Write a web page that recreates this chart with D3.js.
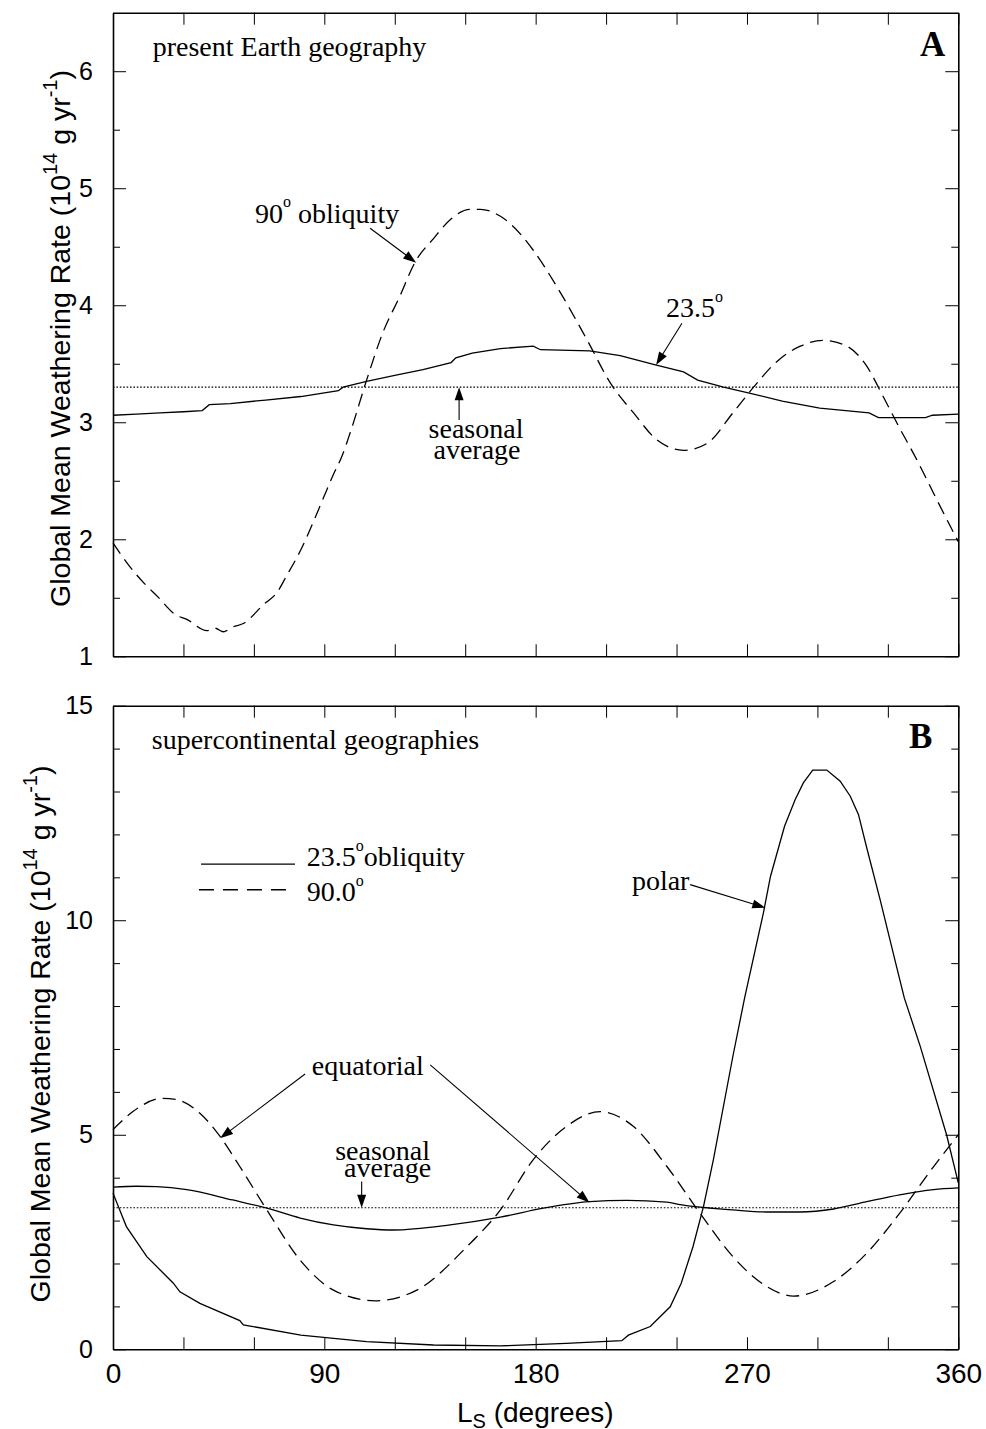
<!DOCTYPE html>
<html><head><meta charset="utf-8">
<script src="https://cdn.jsdelivr.net/npm/d3@7/dist/d3.min.js"></script>
<style>body{margin:0;background:#fff} svg{display:block}</style>
</head><body>
<svg id="chart" width="986" height="1429"></svg>
<script>
// ---------- DATA ----------
// x tick values (Ls degrees)
const xTicks = [0,30,60,90,120,150,180,210,240,270,300,330,360];
const xLabelTicks = [0,90,180,270,360];
// panel A y ticks
const yMajorA = [1,2,3,4,5,6];
const yMinorA = [1.5,2.5,3.5,4.5,5.5];
// panel B y ticks
const yMajorB = [0,5,10,15];
const yMinorB = [1,2,3,4,6,7,8,9,11,12,13,14];

const seasonalAvgA = 3.3;
const seasonalAvgB = 3.3;

// Panel A: present Earth geography [Ls, rate]
const earth235 = [[0,3.06],[10,3.07],[20,3.08],[30,3.09],[38,3.10],[41,3.15],[50,3.16],[65,3.19],[80,3.22],[96,3.27],[98,3.30],[108,3.35],[120,3.40],[132,3.45],[144,3.51],[146,3.55],[153,3.59],[165,3.63],[179,3.65],[182,3.62],[203,3.61],[216,3.57],[231,3.49],[243,3.43],[249,3.36],[260,3.30],[271,3.25],[285,3.18],[301,3.12],[322,3.08],[326,3.04],[346,3.04],[349,3.06],[360,3.07]];
const earth90 = [[0,1.97],[7,1.77],[13,1.63],[19,1.51],[27,1.35],[31,1.32],[40,1.22],[43.5,1.24],[47,1.21],[51,1.25],[55.5,1.28],[64,1.44],[70,1.55],[74,1.69],[80,1.91],[86,2.18],[91,2.42],[94,2.56],[97.5,2.71],[101,2.91],[108,3.36],[115,3.77],[122,4.07],[128.7,4.37],[136.5,4.57],[143.6,4.73],[152,4.82],[156.4,4.82],[165,4.76],[169,4.70],[179,4.47],[189,4.16],[202,3.70],[212,3.33],[221.7,3.08],[231.6,2.85],[243,2.76],[253,2.82],[264,3.08],[272.8,3.30],[282.8,3.52],[292.7,3.65],[302.6,3.70],[312.6,3.65],[321,3.48],[328,3.22],[335,2.95],[341,2.73],[346.6,2.51],[349.3,2.40],[360,1.98]];

// Panel B: supercontinental geographies [Ls, rate]
const polar235 = [[0,3.64],[5.7,2.86],[14.4,2.16],[25.7,1.54],[28.5,1.34],[37,1.07],[54,0.67],[55.5,0.57],[80,0.33],[108,0.18],[136.5,0.10],[165,0.08],[193,0.14],[216.7,0.20],[219.5,0.33],[228.8,0.53],[237.3,0.99],[242,1.54],[247,2.39],[251.5,3.33],[255.7,4.42],[264,6.83],[269,8.19],[277,10.17],[280,11.02],[286,12.19],[290.5,12.81],[294,13.2],[298,13.5],[304,13.5],[309.7,13.24],[314,12.89],[317.5,12.46],[321,11.69],[326.7,10.48],[333.7,8.92],[337,8.19],[343.8,7.06],[355,5.0],[360,3.88]];
const equat235 = [[0,3.78],[10,3.80],[18.6,3.79],[31.4,3.72],[51,3.48],[65.5,3.29],[79.7,3.06],[93.9,2.90],[108,2.81],[119.4,2.78],[143.6,2.90],[165,3.08],[183.3,3.29],[203,3.44],[218.8,3.47],[235.9,3.43],[241.6,3.37],[264,3.25],[278.5,3.20],[292.7,3.20],[306.9,3.27],[321,3.44],[335,3.60],[349.5,3.72],[360,3.76]];
const equat90 = [[0,5.12],[8.5,5.54],[21,5.85],[27,5.82],[37,5.50],[45.6,4.96],[54,4.26],[65.5,3.25],[79.7,2.08],[93.9,1.38],[111.6,1.13],[129.4,1.38],[150.7,2.39],[165,3.25],[179,4.42],[193,5.19],[207.5,5.54],[221.7,5.19],[235.9,4.26],[250,3.17],[264,2.16],[278.5,1.46],[289.8,1.24],[306.9,1.58],[321,2.24],[335,3.17],[349.5,4.26],[360,5.0]];

// ---------- SETUP ----------
const svg = d3.select("#chart");
const SANS = "'Liberation Sans', Arial, Helvetica, sans-serif";
const SERIF = "'Liberation Serif', 'Times New Roman', Times, serif";

const x = d3.scaleLinear().domain([0,360]).range([113,958.3]);
const yA = d3.scaleLinear().domain([1,6.5]).range([656.3,12.7]);
const yB = d3.scaleLinear().domain([0,15]).range([1349.3,705.7]);

function styleAxis(g, size){
  g.attr("font-family", SANS).attr("font-size", size);
  g.selectAll("line").attr("stroke","#000").attr("stroke-width",1);
  g.selectAll(".domain").attr("stroke","#000").attr("stroke-width",1.6);
  g.selectAll("text").attr("fill","#000");
}

function drawAxes(y, yMajor, yMinor, showX){
  const [yb, yt] = y.range();
  const [xl, xr] = x.range();
  const gb = svg.append("g").attr("transform",`translate(0,${yb})`)
    .call(d3.axisBottom(x).tickValues(xTicks).tickSize(-12).tickSizeOuter(0).tickPadding(13.5)
      .tickFormat(d => (showX && xLabelTicks.includes(d)) ? d : ""));
  styleAxis(gb, 28);
  const gt = svg.append("g").attr("transform",`translate(0,${yt})`)
    .call(d3.axisTop(x).tickValues(xTicks).tickSize(-12).tickSizeOuter(0).tickFormat(""));
  styleAxis(gt, 10);
  const gl = svg.append("g").attr("transform",`translate(${xl},0)`)
    .call(d3.axisLeft(y).tickValues(yMajor).tickSize(-13).tickSizeOuter(0).tickPadding(20).tickFormat(d3.format("d")));
  styleAxis(gl, 25);
  const glm = svg.append("g").attr("transform",`translate(${xl},0)`)
    .call(d3.axisLeft(y).tickValues(yMinor).tickSize(-7).tickFormat(""));
  glm.select(".domain").remove(); styleAxis(glm,10);
  const gr = svg.append("g").attr("transform",`translate(${xr},0)`)
    .call(d3.axisRight(y).tickValues(yMajor).tickSize(-13).tickSizeOuter(0).tickFormat(""));
  styleAxis(gr,10);
  const grm = svg.append("g").attr("transform",`translate(${xr},0)`)
    .call(d3.axisRight(y).tickValues(yMinor).tickSize(-7).tickFormat(""));
  grm.select(".domain").remove(); styleAxis(grm,10);
}

function drawLine(data, y, dash, curve){
  const line = d3.line().x(d => x(d[0])).y(d => y(d[1])).curve(curve || d3.curveLinear);
  svg.append("path").datum(data).attr("d", line)
    .attr("fill","none").attr("stroke","#000").attr("stroke-width",1.3)
    .attr("stroke-dasharray", dash || null);
}

function hline(v, y){
  svg.append("line").attr("x1", x(0)).attr("x2", x(360)).attr("y1", y(v)).attr("y2", y(v))
    .attr("stroke","#000").attr("stroke-width",1.1).attr("stroke-dasharray","1.6,1.8");
}

// rich text: parts [{t, dy (offset from baseline, negative=up), size}]
function rich(parent, px, py, parts, o){
  const t = parent.append("text").attr("x",px).attr("y",py)
    .attr("font-family", o.family || SERIF).attr("font-size", o.size)
    .attr("font-weight", o.weight || "normal").attr("text-anchor", o.anchor || "start")
    .attr("fill","#000");
  if (o.transform) t.attr("transform", o.transform);
  let shift = 0;
  parts.forEach(p => {
    const target = p.dy || 0;
    const ts = t.append("tspan").text(p.t).attr("dy", target - shift);
    shift = target;
    if (p.size) ts.attr("font-size", p.size);
  });
  return t;
}

function arrow(x1,y1,x2,y2){
  const L = 13, Wd = 4.5;
  const dx = x2-x1, dy = y2-y1, len = Math.hypot(dx,dy);
  const ux = dx/len, uy = dy/len;
  const bx = x2 - ux*L, by = y2 - uy*L;
  svg.append("line").attr("x1",x1).attr("y1",y1).attr("x2",bx+ux*2).attr("y2",by+uy*2)
    .attr("stroke","#000").attr("stroke-width",1.1);
  svg.append("path")
    .attr("d",`M${x2},${y2}L${bx - uy*Wd},${by + ux*Wd}L${bx + uy*Wd},${by - ux*Wd}Z`)
    .attr("fill","#000");
}

// ---------- PANEL A ----------
hline(seasonalAvgA, yA);
drawLine(earth235, yA);
drawLine(earth90, yA, "13,7", d3.curveMonotoneX);
drawAxes(yA, yMajorA, yMinorA, false);

rich(svg, x(16.9), yA(6.13), [{t:"present Earth geography"}], {size:28});
rich(svg, x(354.5), yA(6.13), [{t:"A"}], {size:35, weight:"bold", anchor:"end"});
rich(svg, x(60.5), yA(4.706), [{t:"90"},{t:"o",dy:-16,size:16},{t:" obliquity"}], {size:28});
arrow(x(109.5), yA(4.658), x(129.1), yA(4.364));
rich(svg, x(235.5), yA(3.897), [{t:"23.5"},{t:"o",dy:-15,size:16}], {size:28});
arrow(x(242.3), yA(3.846), x(231.3), yA(3.49));
rich(svg, x(134.4), yA(2.863), [{t:"seasonal"}], {size:28});
rich(svg, x(136.5), yA(2.684), [{t:"average"}], {size:28});
arrow(x(147.4), yA(3.02), x(147.4), yA(seasonalAvgA));

// ---------- PANEL B ----------
hline(seasonalAvgB, yB);
drawLine(polar235, yB);
drawLine(equat235, yB, null, d3.curveMonotoneX);
drawLine(equat90, yB, "13,7", d3.curveMonotoneX);
drawAxes(yB, yMajorB, yMinorB, true);

rich(svg, x(16.5), yB(14.0), [{t:"supercontinental geographies"}], {size:28});
rich(svg, x(349), yB(14.02), [{t:"B"}], {size:35, weight:"bold", anchor:"end"});

// legend
svg.append("line").attr("x1",x(37.5)).attr("x2",x(77.5)).attr("y1",yB(11.31)).attr("y2",yB(11.31))
  .attr("stroke","#000").attr("stroke-width",1.3);
svg.append("line").attr("x1",x(36.6)).attr("x2",x(74.1)).attr("y1",yB(10.71)).attr("y2",yB(10.71))
  .attr("stroke","#000").attr("stroke-width",1.3).attr("stroke-dasharray","15,9");
rich(svg, x(82.5), yB(11.26), [{t:"23.5"},{t:"o",dy:-15,size:16},{t:"obliquity"}], {size:28});
rich(svg, x(82.5), yB(10.44), [{t:"90.0"},{t:"o",dy:-15,size:16}], {size:28});

rich(svg, x(221), yB(10.71), [{t:"polar"}], {size:28});
arrow(x(245.8), yB(10.83), x(277.8), yB(10.29));

rich(svg, x(84.65), yB(6.39), [{t:"equatorial"}], {size:28});
arrow(x(81.8), yB(6.415), x(45.6), yB(4.92));
arrow(x(135.1), yB(6.63), x(202.9), yB(3.42));

rich(svg, x(94.6), yB(4.416), [{t:"seasonal"}], {size:28});
rich(svg, x(98.4), yB(4.01), [{t:"average"}], {size:28});
arrow(x(105.9), yB(3.91), x(105.9), yB(seasonalAvgB));

// ---------- AXIS TITLES ----------
const ytitle = [{t:"Global Mean Weathering Rate (10"},{t:"14",dy:-13,size:20},{t:" g yr"},{t:"-1",dy:-13,size:20},{t:")"}];
rich(svg, 0, 0, ytitle, {family:SANS, size:28.5, anchor:"middle", transform:"translate(70,338.5) rotate(-90)"});
rich(svg, 0, 0, ytitle, {family:SANS, size:28.5, anchor:"middle", transform:"translate(50,1034) rotate(-90)"});

rich(svg, 457, 1422, [{t:"L"},{t:"S",dy:6,size:20},{t:" (degrees)"}], {family:SANS, size:28});
</script>
</body></html>
